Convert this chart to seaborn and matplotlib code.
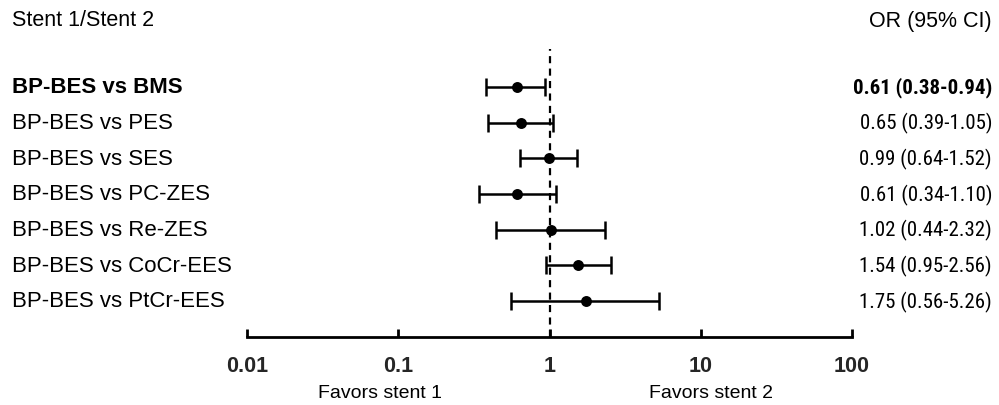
import matplotlib
matplotlib.use("Agg")
import matplotlib.pyplot as plt
import matplotlib.transforms as mtransforms
from matplotlib import font_manager
import seaborn as sns
import pandas as pd

# ---- data ----
comparisons = ["BP-BES vs BMS", "BP-BES vs PES", "BP-BES vs SES", "BP-BES vs PC-ZES",
               "BP-BES vs Re-ZES", "BP-BES vs CoCr-EES", "BP-BES vs PtCr-EES"]
odds_ratio = [0.61, 0.65, 0.99, 0.61, 1.02, 1.54, 1.75]
ci_low = [0.38, 0.39, 0.64, 0.34, 0.44, 0.95, 0.56]
ci_high = [0.94, 1.05, 1.52, 1.10, 2.32, 2.56, 5.26]
x_ticks = [0.01, 0.1, 1, 10, 100]
x_tick_labels = ["0.01", "0.1", "1", "10", "100"]

sns.set_theme(style="white")
available = {f.name for f in font_manager.fontManager.ttflist}
main_font = "Liberation Sans" if "Liberation Sans" in available else "DejaVu Sans"
narrow_font = None
for cand in ["Liberation Sans Narrow", "Arial Narrow", "Roboto Condensed",
             "Open Sans Condensed", "DejaVu Sans Condensed"]:
    if cand in available:
        narrow_font = cand
        break
if narrow_font is None:
    narrow_font = main_font
    or_size = 13.5
else:
    or_size = 15
plt.rcParams["font.family"] = [main_font, "DejaVu Sans"]

n = len(comparisons)
df = pd.DataFrame({
    "label": comparisons,
    "or": odds_ratio,
    "lo": ci_low,
    "hi": ci_high,
})
df["y"] = [n - i for i in range(n)]

W, H = 999, 406
fig = plt.figure(figsize=(W / 100, H / 100), dpi=100)
ax_left = 247 / W
ax_right = 852 / W
ax_bottom = 1 - 338 / H
ax_top = 1 - 50 / H
ax = fig.add_axes([ax_left, ax_bottom, ax_right - ax_left, ax_top - ax_bottom])

# error bars
ax.errorbar(df["or"], df["y"],
            xerr=[df["or"] - df["lo"], df["hi"] - df["or"]],
            fmt="none", ecolor="black", elinewidth=1.8, capsize=6.5, capthick=1.8, zorder=3)
sns.scatterplot(data=df, x="or", y="y", color="black", s=62, edgecolor="black",
                linewidth=0, ax=ax, zorder=4, legend=False)

ax.axvline(1, color="black", linestyle=(0, (3.2, 2.4)), linewidth=1.6, zorder=2)

ax.set_xscale("log")
ax.set_xlim(0.01, 100)
ax.set_ylim(-0.01, n + 1.065)
ax.set_xticks(x_ticks)
ax.set_xticklabels(x_tick_labels, fontweight="bold", fontsize=15.5)
ax.minorticks_off()
ax.set_yticks([])
ax.set_xlabel("")
ax.set_ylabel("")
for side in ["top", "left", "right"]:
    ax.spines[side].set_visible(False)
ax.spines["bottom"].set_linewidth(2)
ax.spines["bottom"].set_color("black")
ax.tick_params(axis="x", direction="in", length=6, width=2, color="black", pad=13,
               bottom=True)
ax.set_facecolor("none")

# row labels and OR text
trans = mtransforms.blended_transform_factory(fig.transFigure, ax.transData)
for i, row in df.iterrows():
    bold = "bold" if i == 0 else "normal"
    ax.text(12 / W, row["y"], row["label"], transform=trans, ha="left", va="center",
            fontsize=16, fontweight=bold, color="black")
    txt = f"{row['or']:.2f} ({row['lo']:.2f}-{row['hi']:.2f})"
    ax.text(992 / W, row["y"], txt, transform=trans, ha="right", va="center",
            fontsize=or_size, fontweight=bold, color="black",
            family=[narrow_font, "DejaVu Sans"])

fig.text(12 / W, 1 - 21 / H, "Stent 1/Stent 2", ha="left", va="center", fontsize=15.5, color="black")
fig.text(992 / W, 1 - 21 / H, "OR (95% CI)", ha="right", va="center", fontsize=15.5, color="black")
fig.text(380 / W, 1 - 394 / H, "Favors stent 1", ha="center", va="center", fontsize=14, color="black")
fig.text(711 / W, 1 - 394 / H, "Favors stent 2", ha="center", va="center", fontsize=14, color="black")

fig.savefig("out.png", dpi=100, facecolor="white")
